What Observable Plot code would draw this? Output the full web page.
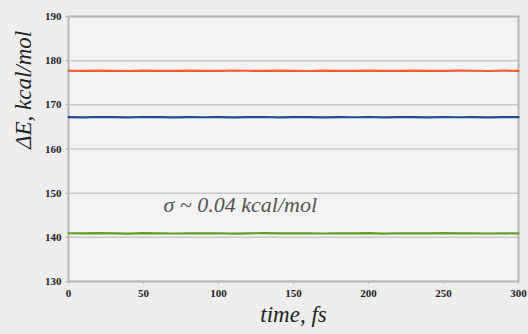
<!DOCTYPE html>
<html><head><meta charset="utf-8">
<script src="https://cdn.jsdelivr.net/npm/d3@7"></script>
<script src="https://cdn.jsdelivr.net/npm/@observablehq/plot@0.6"></script>
<style>
html,body{margin:0;padding:0;background:#eeeeee;overflow:hidden;}
#chart{width:528px;height:334px;}
</style></head>
<body><div id="chart"></div>
<script>
const times = [0,10,20,30,40,50,60,70,80,90,100,110,120,130,140,150,160,170,180,190,200,210,220,230,240,250,260,270,280,290,300];
const orangeValues = [177.72,177.68,177.75,177.70,177.66,177.74,177.71,177.69,177.76,177.70,177.67,177.73,177.72,177.68,177.75,177.71,177.66,177.74,177.70,177.69,177.76,177.71,177.67,177.73,177.70,177.68,177.75,177.72,177.66,177.73,177.70];
const blueValues = [167.22,167.18,167.25,167.20,167.16,167.24,167.21,167.17,167.23,167.19,167.22,167.15,167.21,167.24,167.18,167.20,167.23,167.17,167.21,167.19,167.24,167.16,167.22,167.20,167.18,167.25,167.19,167.21,167.17,167.23,167.20];
const greenValues = [140.92,140.88,140.95,140.90,140.86,140.94,140.91,140.87,140.93,140.89,140.92,140.85,140.91,140.94,140.88,140.90,140.93,140.87,140.91,140.89,140.94,140.86,140.92,140.90,140.88,140.95,140.89,140.91,140.87,140.93,140.90];
const seriesNames = ["series A","series B","series C"];
const seriesColors = ["#ff5a2e","#1e4f96","#5ca224"];
const xTicks = [0,50,100,150,200,250,300];
const yTicks = [130,140,150,160,170,180,190];
const annotation = "σ ~ 0.04 kcal/mol";
const xLabel = "time, fs";
const yLabel = "ΔE, kcal/mol";

const rows = [];
[orangeValues, blueValues, greenValues].forEach((vals, i) => {
  vals.forEach((v, j) => rows.push({t: times[j], e: v, s: seriesNames[i]}));
});

const serif = "Liberation Serif";
const plot = Plot.plot({
  width: 528, height: 334,
  marginLeft: 68, marginRight: 10, marginTop: 16, marginBottom: 53,
  x: {domain: [0,300], ticks: xTicks, label: null},
  y: {domain: [130,190], ticks: yTicks, label: null},
  color: {domain: seriesNames, range: seriesColors},
  marks: [
    Plot.frame({fill: "#f3f3f3"}),
    Plot.gridY(yTicks, {stroke: "#c9c9c9", strokeOpacity: 1, strokeWidth: 1.5}),
    Plot.frame({stroke: "#b5b5b5", strokeWidth: 2}),
    Plot.axisX({ticks: xTicks, tickSize: 3, tickPadding: 5, stroke: "#b5b5b5", fontFamily: serif, fontSize: 11, fontWeight: "bold", fill: "#222", label: null}),
    Plot.axisY({ticks: yTicks, tickSize: 3, tickPadding: 4, stroke: "#b5b5b5", fontFamily: serif, fontSize: 11, fontWeight: "bold", fill: "#222", label: null}),
    Plot.line(rows, {x: "t", y: "e", z: "s", stroke: "s", strokeWidth: 2.2, curve: "linear"}),
    Plot.text([annotation], {frameAnchor: "top-left", dx: 95, dy: 180, text: d => d, fontFamily: serif, fontSize: 22, fontStyle: "italic", fill: "#555", textAnchor: "start"}),
    Plot.text([xLabel], {frameAnchor: "bottom", dy: 40, text: d => d, fontFamily: serif, fontSize: 23, fontStyle: "italic", fill: "#222"}),
    Plot.text([yLabel], {frameAnchor: "left", dx: -45, rotate: -90, text: d => d, fontFamily: serif, fontSize: 23, fontStyle: "italic", fill: "#222"})
  ]
});
plot.style.background = "transparent";
document.getElementById("chart").appendChild(plot);
</script></body></html>
